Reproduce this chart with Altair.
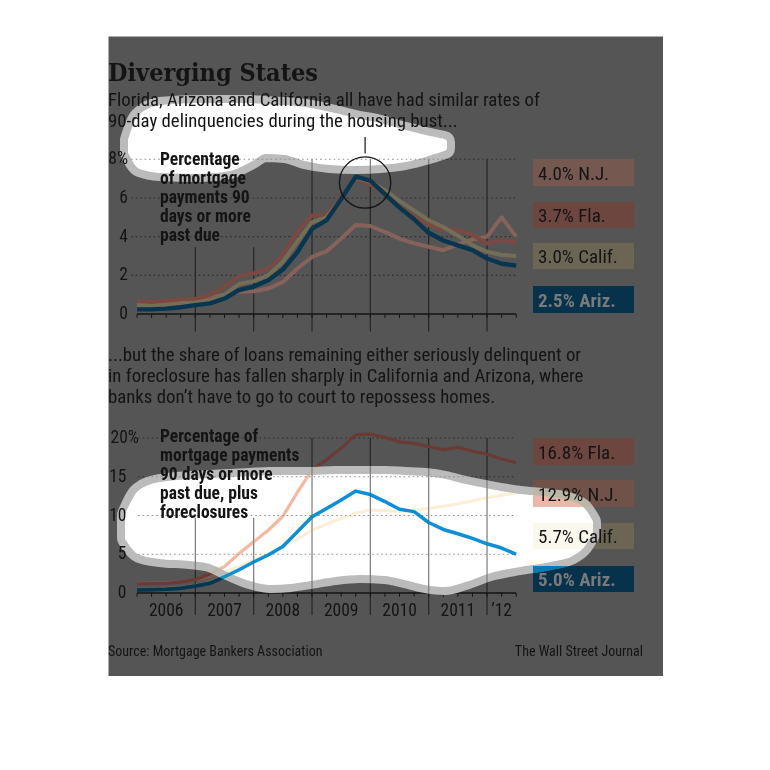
import altair as alt
import pandas as pd

# ---------------- data ----------------
quarters = [2006 + q / 4 for q in range(27)]  # quarterly points 2006 .. mid-2012

# Percentage of mortgage payments 90 days or more past due
up_nj = [0.65, 0.60, 0.62, 0.70, 0.75, 0.85, 1.00, 1.15, 1.17, 1.32, 1.65, 2.35, 2.95, 3.25,
         3.90, 4.60, 4.55, 4.25, 3.90, 3.65, 3.48, 3.30, 3.60, 3.85, 4.00, 5.00, 4.00]
up_fla = [0.65, 0.62, 0.68, 0.75, 0.78, 0.98, 1.40, 1.96, 2.10, 2.36, 3.05, 4.25, 5.10, 5.15,
          6.05, 7.00, 6.70, 6.20, 5.55, 5.05, 4.60, 4.38, 4.34, 4.10, 3.65, 3.82, 3.70]
up_cal = [0.45, 0.42, 0.47, 0.55, 0.60, 0.70, 1.00, 1.55, 1.70, 2.00, 2.70, 3.75, 4.75, 5.00,
          5.95, 7.05, 6.85, 6.40, 5.85, 5.35, 4.85, 4.50, 4.05, 3.55, 3.22, 3.05, 3.00]
up_az = [0.24, 0.24, 0.28, 0.35, 0.46, 0.55, 0.80, 1.24, 1.42, 1.75, 2.30, 3.20, 4.40, 4.85,
         5.95, 7.10, 6.90, 6.20, 5.50, 4.90, 4.20, 3.80, 3.55, 3.30, 2.87, 2.60, 2.50]

# ... plus foreclosures
lo_fla = [1.15, 1.20, 1.25, 1.40, 1.75, 2.45, 3.40, 5.10, 6.60, 8.10, 9.90, 13.0, 15.9, 17.2,
          18.7, 20.4, 20.5, 20.1, 19.5, 19.3, 18.9, 18.5, 18.8, 18.3, 17.9, 17.3, 16.8]
lo_nj = [1.25, 1.30, 1.35, 1.45, 1.70, 2.10, 2.70, 3.40, 4.25, 5.10, 6.00, 7.00, 8.10, 8.90,
         9.60, 10.3, 10.7, 10.6, 10.5, 10.7, 10.9, 11.2, 11.5, 11.9, 12.3, 12.6, 12.9]
lo_cal = [0.45, 0.50, 0.60, 0.75, 1.00, 1.50, 2.30, 3.30, 4.50, 5.80, 7.20, 8.80, 10.2, 11.0,
          11.8, 12.5, 12.3, 11.6, 10.6, 10.0, 8.80, 8.00, 7.50, 7.00, 6.50, 6.10, 5.70]
lo_az = [0.40, 0.42, 0.47, 0.60, 0.90, 1.25, 2.10, 3.00, 4.00, 4.90, 6.00, 7.90, 9.85, 10.9,
         12.0, 13.15, 12.7, 11.8, 10.8, 10.5, 9.10, 8.20, 7.65, 7.05, 6.35, 5.80, 5.00]

up_ticks = [0, 2, 4, 6, 8]
up_tick_labels = ["0", "2", "4", "6", "8%"]
lo_ticks = [0, 5, 10, 15]
lo_tick_labels = ["0", "5", "10", "15"]
lo_top_tick, lo_top_label = 20, "20%"
year_bounds = [2007, 2008, 2009, 2010, 2011, 2012]
year_label_pos = [2006.5, 2007.5, 2008.5, 2009.5, 2010.5, 2011.5, 2012.25]
year_labels = ["2006", "2007", "2008", "2009", "2010", "2011", "\u201912"]

up_boxes = ["4.0% N.J.", "3.7% Fla.", "3.0% Calif.", "2.5% Ariz."]
lo_boxes = ["16.8% Fla.", "12.9% N.J.", "5.7% Calif.", "5.0% Ariz."]

# highlight blobs (page pixel outlines: x, top, bottom)
blob_up_x = [131, 140, 160, 200, 230, 250, 265, 285, 305, 330, 355, 380, 405, 425, 444]
blob_up_top = [140, 118, 108, 106, 106, 106, 107, 108, 110, 115, 121, 126, 133, 138, 142]
blob_up_bot = [152, 166, 170, 171, 168, 159, 151, 152, 158, 162, 163, 162, 159, 154, 148]

blob_lo_x = [128, 140, 160, 190, 210, 230, 250, 270, 290, 310, 335, 360, 385, 405, 425, 445,
             465, 490, 520, 550, 570, 582, 590]
blob_lo_top = [515, 493, 485, 482, 481, 480, 479, 478, 478, 478, 477, 477, 477, 478, 479, 482,
               487, 492, 497, 500, 504, 510, 522]
blob_lo_bot = [538, 552, 556, 558, 561, 570, 578, 582, 581, 578, 574, 572, 573, 577, 582, 584,
               579, 570, 564, 559, 554, 545, 532]

# ---------------- styling ----------------
GRAY = "#555555"
SANS = "Liberation Sans Narrow, Roboto Condensed, DejaVu Sans Condensed, sans-serif"
SERIF = "DejaVu Serif Condensed, DejaVu Serif, serif"
INK = "#141414"
HALO = "#bbbbbb"

XS = alt.Scale(domain=[2006, 2012.5], range=[29, 408.2], nice=False, zero=False)
YU = alt.Scale(domain=[0, 8], range=[278, 123.3], nice=False, zero=False)
YL = alt.Scale(domain=[0, 20], range=[557, 402], nice=False, zero=False)
PX = alt.Scale(domain=[108, 663], range=[0, 555], nice=False, zero=False)
PY = alt.Scale(domain=[36, 676], range=[0, 640], nice=False, zero=False)

one = pd.DataFrame({"a": [0]})


def kw_blend(d, blend):
    if blend:
        d["blend"] = blend
    return d


def series_line(vals, ys, color, width, blend=None):
    df = pd.DataFrame({"x": quarters, "v": vals})
    return alt.Chart(df).mark_line(**kw_blend(dict(
        color=color, strokeWidth=width, strokeJoin="round", strokeCap="butt"), blend)).encode(
        x=alt.X("x:Q", scale=XS, axis=None),
        y=alt.Y("v:Q", scale=ys, axis=None))


def grid(vals, ys, x0, color, blend=None):
    df = pd.DataFrame({"v": vals, "x0": [x0] * len(vals), "x1": [2012.5] * len(vals)})
    return alt.Chart(df).mark_rule(**kw_blend(dict(
        color=color, strokeWidth=1.1, strokeDash=[1.5, 3]), blend)).encode(
        x=alt.X("x0:Q", scale=XS, axis=None), x2="x1:Q",
        y=alt.Y("v:Q", scale=ys, axis=None))


def year_lines(tops, bottom, ys, color, blend=None):
    df = pd.DataFrame({"x": year_bounds, "t": tops, "b": [bottom] * len(tops)})
    return alt.Chart(df).mark_rule(**kw_blend(dict(color=color, strokeWidth=1.2), blend)).encode(
        x=alt.X("x:Q", scale=XS, axis=None),
        y=alt.Y("t:Q", scale=ys, axis=None), y2="b:Q")


def axis_line(ys):
    df = pd.DataFrame({"x0": [2006], "x1": [2012.5], "v": [0]})
    return alt.Chart(df).mark_rule(color=INK, strokeWidth=1.3).encode(
        x=alt.X("x0:Q", scale=XS, axis=None), x2="x1:Q",
        y=alt.Y("v:Q", scale=ys, axis=None))


def quarter_ticks(ys, depth):
    df = pd.DataFrame({"x": quarters, "t": [0] * 27, "b": [depth] * 27})
    return alt.Chart(df).mark_rule(color=INK, strokeWidth=1).encode(
        x=alt.X("x:Q", scale=XS, axis=None),
        y=alt.Y("t:Q", scale=ys, axis=None), y2="b:Q")


def tick_labels(vals, labels, ys, xpos, align="right"):
    df = pd.DataFrame({"v": vals, "t": labels})
    return alt.Chart(df).mark_text(align=align, baseline="middle", font=SANS,
                                   fontSize=17.5, color=INK).encode(
        x=alt.value(xpos), y=alt.Y("v:Q", scale=ys, axis=None), text="t:N")


def text(t, x, y, size=18.8, weight="normal", align="left", color=INK, font=SANS,
         baseline="alphabetic", lh=None):
    kw = dict(text=t, fontSize=size, fontWeight=weight, align=align, color=color,
              font=font, baseline=baseline)
    if lh:
        kw["lineHeight"] = lh
    return alt.Chart(one).mark_text(**kw).encode(x=alt.value(x), y=alt.value(y))


def box(y1, y2, color, blend=None):
    return alt.Chart(one).mark_rect(**kw_blend(dict(color=color), blend)).encode(
        x=alt.value(425), x2=alt.value(526), y=alt.value(y1), y2=alt.value(y2))


def blob(xs, tops, bots, color, sw):
    df = pd.DataFrame({"x": xs, "t": tops, "b": bots})
    return alt.Chart(df).mark_area(color=color, stroke=color, strokeWidth=sw,
                                   strokeJoin="round", interpolate="monotone",
                                   opacity=1).encode(
        x=alt.X("x:Q", scale=PX, axis=None),
        y=alt.Y("t:Q", scale=PY, axis=None), y2="b:Q")


up_box_y = [(123, 150), (166, 192), (207, 233), (250, 277)]
lo_box_y = [(402, 429), (444, 471), (487, 513), (530, 556)]

up_box_dim = ["#755950", "#6e4640", "#6b6653", "#07324b"]
lo_box_dim = ["#6d4640", "#705249", "#6b6654", "#07324b"]
lo_box_bright = ["#e9a990", "#eab7a8", "#fbf8ee", "#0b78b8"]

layers = []

# structure (dimmed)
layers.append(year_lines([3.45, 3.45, 8, 8, 8, 8], -0.9, YU, "#262626"))
layers.append(year_lines([9.7, 9.7, 20, 20, 20, 20], -2.85, YL, "#262626"))
layers.append(grid([2, 4, 6, 8], YU, 2005.9, "#2c2c2c"))
layers.append(grid([5, 10, 15, 20], YL, 2006.02, "#2c2c2c"))
layers += [axis_line(YU), axis_line(YL), quarter_ticks(YU, -0.2), quarter_ticks(YL, -0.5)]

# dimmed series
layers += [
    series_line(up_nj, YU, "#86625a", 4),
    series_line(up_fla, YU, "#7b4941", 4),
    series_line(up_cal, YU, "#756e57", 4),
    series_line(up_az, YU, "#083651", 4.4),
    series_line(lo_nj, YL, "#7c5a51", 3),
    series_line(lo_cal, YL, "#6d6856", 3),
    series_line(lo_fla, YL, "#6a3b35", 3.2),
    series_line(lo_az, YL, "#063550", 3.5),
]

# dimmed label boxes
for (a, b), c in zip(up_box_y, up_box_dim):
    layers.append(box(a, b, c))
for (a, b), c in zip(lo_box_y, lo_box_dim):
    layers.append(box(a, b, c))

# highlight blobs
layers += [
    blob(blob_up_x, blob_up_top, blob_up_bot, HALO, 22),
    blob(blob_lo_x, blob_lo_top, blob_lo_bot, HALO, 22),
    blob(blob_up_x, blob_up_top, blob_up_bot, "#ffffff", 6),
    blob(blob_lo_x, blob_lo_top, blob_lo_bot, "#ffffff", 6),
]

# bright copies that only show through the highlights
layers.append(year_lines([3.45, 3.45, 8, 8, 8, 8], -0.9, YU, "#7a7a7a", "darken"))
layers.append(year_lines([9.7, 9.7, 20, 20, 20, 20], -2.85, YL, "#7a7a7a", "darken"))
layers.append(grid([2, 4, 6, 8], YU, 2005.9, "#8a8a8a", "darken"))
layers.append(grid([5, 10, 15, 20], YL, 2006.02, "#8a8a8a", "darken"))
for (a, b), c in zip(lo_box_y, lo_box_bright):
    layers.append(box(a, b, c, "darken"))
layers += [
    series_line(lo_cal, YL, "#fffcf2", 3, "darken"),
    series_line(lo_nj, YL, "#fcefd3", 3, "darken"),
    series_line(lo_fla, YL, "#f6b89f", 3.2, "darken"),
    series_line(lo_az, YL, "#0b8fda", 3.5, "darken"),
]

# texts
layers += [
    text("Diverging States", 0, 45, size=25, weight="bold", font=SERIF),
    text(["Florida, Arizona and California all have had similar rates of",
          "90-day delinquencies during the housing bust..."], 0, 70, lh=21),
    text(["Percentage", "of mortgage", "payments 90", "days or more", "past due"],
         52, 128.5, size=17.5, weight="bold", lh=19),
    text(["...but the share of loans remaining either seriously delinquent or",
          "in foreclosure has fallen sharply in California and Arizona, where",
          "banks don\u2019t have to go to court to repossess homes."], 0, 325, size=18.8,
         lh=21),
    text(["Percentage of", "mortgage payments", "90 days or more", "past due, plus",
          "foreclosures"], 52, 405.5, size=17.5, weight="bold", lh=19),
    text("Source: Mortgage Bankers Association", 0, 620, size=14),
    text("The Wall Street Journal", 535, 620, size=14, align="right"),
    tick_labels(up_ticks, up_tick_labels, YU, 20),
    tick_labels(lo_ticks, lo_tick_labels, YL, 18.5),
    tick_labels([lo_top_tick], [lo_top_label], YL, 2.5, align="left"),
]

yl_df = pd.DataFrame({"x": year_label_pos, "t": year_labels})
layers.append(alt.Chart(yl_df).mark_text(font=SANS, fontSize=17.5, color=INK,
                                         baseline="alphabetic", align="center").encode(
    x=alt.X("x:Q", scale=XS, axis=None), y=alt.value(580), text="t:N"))

for (a, b), t in zip(up_box_y + lo_box_y, up_boxes + lo_boxes):
    c = "#7a7a7a" if "Ariz" in t else INK
    w = "bold" if "Ariz" in t else "normal"
    layers.append(text(t, 430, (a + b) / 2 + 1, size=19, color=c, weight=w, baseline="middle"))

# circled peak with pointer
circ = pd.DataFrame({"x": [2009.91], "v": [6.8]})
layers.append(alt.Chart(circ).mark_point(shape="circle", size=2640, filled=False,
                                         stroke=INK, strokeWidth=1.3, opacity=1).encode(
    x=alt.X("x:Q", scale=XS, axis=None), y=alt.Y("v:Q", scale=YU, axis=None)))
ptr = pd.DataFrame({"x": [2009.91], "t": [9.15], "b": [8.3]})
layers.append(alt.Chart(ptr).mark_rule(color=INK, strokeWidth=1.2).encode(
    x=alt.X("x:Q", scale=XS, axis=None), y=alt.Y("t:Q", scale=YU, axis=None), y2="b:Q"))

chart = alt.layer(*layers).resolve_scale(x="independent", y="independent").properties(
    width=555, height=640, autosize="none",
    padding={"left": 100, "top": 28, "right": 0, "bottom": 0},
    background="white",
).configure_view(fill=GRAY, stroke="transparent")

chart.save("out.html", embed_options={"renderer": "svg", "actions": False})
